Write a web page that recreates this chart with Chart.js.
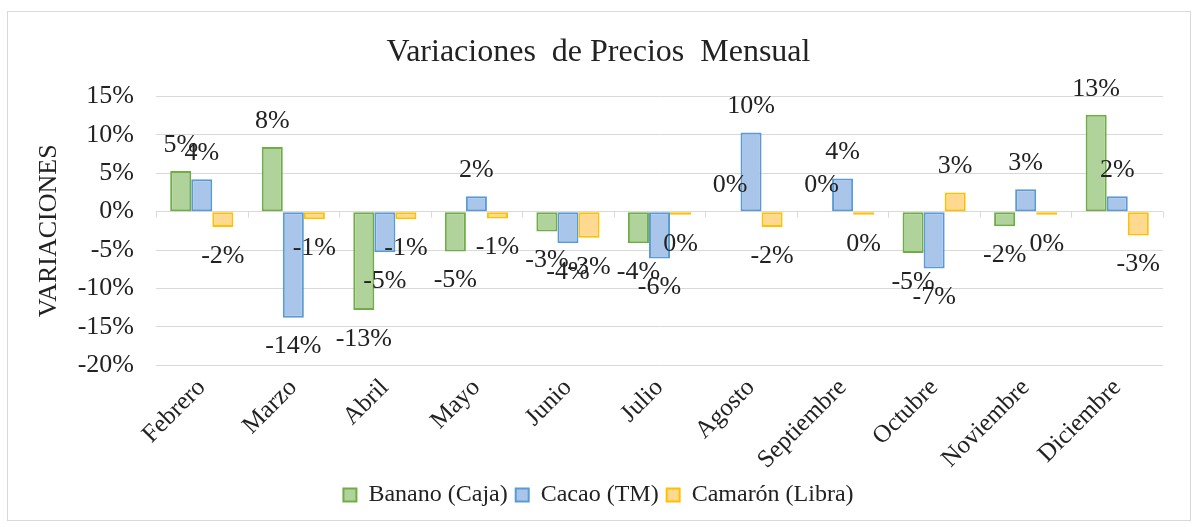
<!DOCTYPE html>
<html>
<head>
<meta charset="utf-8">
<script src="https://cdn.jsdelivr.net/npm/chart.js@4.4.0/dist/chart.umd.min.js"></script>
<style>
  body { margin: 0; background: #fff; }
  #wrap { position: relative; width: 1199px; height: 527px; }
  #frame { position: absolute; left: 7px; top: 11px; width: 1184px; height: 510px; border: 1.5px solid #d9d9d9; box-sizing: border-box; pointer-events: none; }
</style>
</head>
<body>
<div id="wrap">
  <canvas id="chart" width="1199" height="527"></canvas>
  <div id="frame"></div>
</div>
<script>
var months = ['Febrero', 'Marzo', 'Abril', 'Mayo', 'Junio', 'Julio', 'Agosto', 'Septiembre', 'Octubre', 'Noviembre', 'Diciembre'];
var banano = [5.3, 8.4, -12.8, -5.2, -2.6, -4.1, 0, 0, -5.4, -1.9, 12.6];
var cacao = [4.2, -13.8, -5.3, 2.0, -4.1, -6.1, 10.3, 4.3, -7.4, 2.9, 2.0];
var camaron = [-2.0, -1.0, -1.0, -0.9, -3.4, -0.4, -2.0, -0.4, 2.5, -0.4, -3.1];

var serif = "'Liberation Serif', 'Times New Roman', serif";

// etiquetas de datos al estilo Excel
var dataLabels = {
    id: 'dataLabels',
    afterDatasetsDraw: function(chart) {
        var ctx = chart.ctx;
        ctx.save();
        ctx.font = '26px ' + serif;
        ctx.fillStyle = '#222';
        ctx.textAlign = 'center';
        ctx.textBaseline = 'middle';
        chart.data.datasets.forEach(function(ds, i) {
            chart.getDatasetMeta(i).data.forEach(function(bar, j) {
                var v = ds.data[j];
                var txt = Math.round(v) + '%';
                if (txt === '-0%') txt = '0%';
                var y = v >= 0 ? bar.y - 26 : bar.y + 29;
                ctx.fillText(txt, bar.x, y);
            });
        });
        ctx.restore();
    }
};

// marcas pequeñas sobre la línea del cero
var zeroTicks = {
    id: 'zeroTicks',
    beforeDatasetsDraw: function(chart) {
        var ctx = chart.ctx, x = chart.scales.x, y = chart.scales.y;
        var y0 = y.getPixelForValue(0);
        ctx.save();
        ctx.strokeStyle = '#d9d9d9';
        ctx.lineWidth = 1;
        ctx.beginPath();
        for (var i = 0; i <= months.length; i++) {
            var px = Math.round(x.getPixelForValue(i - 0.5)) + 0.5;
            ctx.moveTo(px, y0);
            ctx.lineTo(px, y0 + 6);
        }
        ctx.stroke();
        ctx.restore();
    }
};

new Chart(document.getElementById('chart').getContext('2d'), {
    type: 'bar',
    data: {
        labels: months,
        datasets: [{
            label: 'Banano (Caja)',
            data: banano,
            backgroundColor: '#b0d39b',
            borderColor: '#70ad47',
            borderWidth: 2,
            borderSkipped: false
        }, {
            label: 'Cacao (TM)',
            data: cacao,
            backgroundColor: '#a9c6ea',
            borderColor: '#5b9bd5',
            borderWidth: 2,
            borderSkipped: false
        }, {
            label: 'Camarón (Libra)',
            data: camaron,
            backgroundColor: '#ffd98f',
            borderColor: '#ffc000',
            borderWidth: 2,
            borderSkipped: false
        }]
    },
    options: {
        responsive: false,
        animation: false,
        layout: { padding: { top: 33, left: 34, right: 36, bottom: 10 } },
        datasets: { bar: { categoryPercentage: 0.69, barPercentage: 1.0 } },
        plugins: {
            title: {
                display: true,
                text: 'Variaciones  de Precios  Mensual',
                color: '#222',
                font: { family: serif, size: 32, weight: 'normal' },
                padding: { top: 0, bottom: 25 }
            },
            legend: {
                position: 'bottom',
                labels: {
                    color: '#222',
                    font: { family: serif, size: 24 },
                    boxWidth: 13,
                    boxHeight: 13,
                    padding: 8
                }
            },
            tooltip: { enabled: false }
        },
        scales: {
            y: {
                min: -20,
                max: 15,
                afterFit: function(scale) {
                    scale.width = 122;
                },
                ticks: {
                    stepSize: 5,
                    color: '#222',
                    font: { family: serif, size: 26 },
                    padding: 22,
                    callback: function(v) { return v + '%'; }
                },
                grid: { color: '#d9d9d9', drawTicks: false },
                border: { display: false },
                title: {
                    display: true,
                    text: 'VARIACIONES',
                    color: '#222',
                    font: { family: serif, size: 26 },
                    padding: { top: 0, bottom: 14 }
                }
            },
            x: {
                grid: { display: false },
                border: { display: false },
                afterFit: function(scale) {
                    scale.paddingLeft = 0;
                    scale.paddingRight = 0;
                },
                ticks: {
                    color: '#222',
                    font: { family: serif, size: 25 },
                    minRotation: 45,
                    maxRotation: 45,
                    padding: 0
                }
            }
        }
    },
    plugins: [dataLabels, zeroTicks]
});
</script>
</body>
</html>
